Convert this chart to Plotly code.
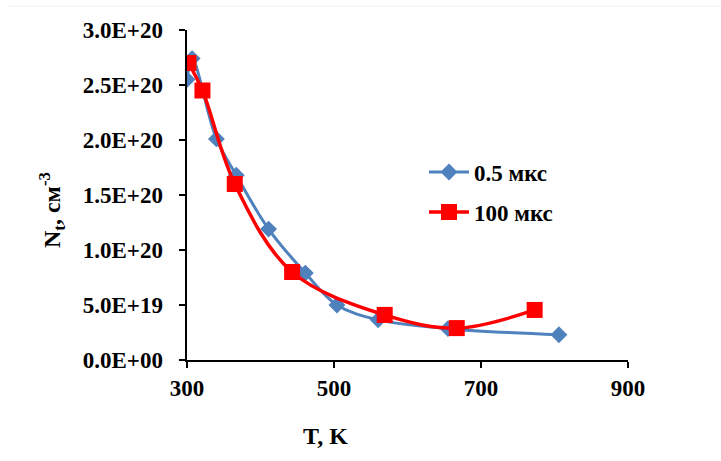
import plotly.graph_objects as go

# Data
t_05 = [300, 307, 340, 367, 411, 461, 504, 560, 655, 806]
n_05 = [2.55e20, 2.74e20, 2.01e20, 1.68e20, 1.19e20, 0.79e20, 0.50e20, 0.365e20, 0.285e20, 0.23e20]
t_100 = [302, 321, 365, 443, 569, 667, 773]
n_100 = [2.70e20, 2.45e20, 1.60e20, 0.80e20, 0.41e20, 0.29e20, 0.455e20]

x_ticks = [300, 500, 700, 900]
y_tickvals = [0, 0.5e20, 1.0e20, 1.5e20, 2.0e20, 2.5e20, 3.0e20]
y_ticktext = ["0.0E+00", "5.0E+19", "1.0E+20", "1.5E+20", "2.0E+20", "2.5E+20", "3.0E+20"]

FONT = "Liberation Serif"
BLUE = "#4F81BD"
RED = "#FF0000"

L, R, T, B = 187, 628, 30, 360
W, H = 721, 461
PW, PH = R - L, B - T

fig = go.Figure()
fig.add_trace(go.Scatter(
    x=t_05, y=n_05, name="<b>0.5 мкс</b>", mode="lines+markers", legend="legend",
    line=dict(color=BLUE, width=3, shape="spline", smoothing=1),
    marker=dict(symbol="diamond", size=13, color=BLUE),
))
fig.add_trace(go.Scatter(
    x=t_100, y=n_100, name="<b>100 мкс</b>", mode="lines+markers", legend="legend2",
    line=dict(color=RED, width=3.5, shape="spline", smoothing=1),
    marker=dict(symbol="square", size=16, color=RED),
))

legend_common = dict(xanchor="left", yanchor="middle", bgcolor="rgba(0,0,0,0)",
                     font=dict(family=FONT, size=23, color="black"), itemwidth=40)

fig.update_layout(
    width=W, height=H,
    margin=dict(l=L, r=W - R, t=T, b=H - B),
    paper_bgcolor="white", plot_bgcolor="white",
    font=dict(family=FONT, color="black", size=23),
    showlegend=True,
    legend=dict(x=(424 - L) / PW, y=(B - 172) / PH, **legend_common),
    legend2=dict(x=(424 - L) / PW, y=(B - 212) / PH, **legend_common),
    xaxis=dict(range=[300, 900], tickvals=x_ticks, ticktext=[f"<b>{v}</b>" for v in x_ticks],
               showline=True, linecolor="black", linewidth=2, ticks="outside",
               ticklen=6, tickwidth=2, tickcolor="black", showgrid=False, zeroline=False,
               tickfont=dict(family=FONT, size=23)),
    yaxis=dict(range=[0, 3.0e20], tickvals=y_tickvals,
               ticktext=[f"<b>{t}</b>\u00a0\u00a0" for t in y_ticktext],
               showline=True, linecolor="black", linewidth=2, ticks="outside",
               ticklen=6, tickwidth=2, tickcolor="black", showgrid=False, zeroline=False,
               tickfont=dict(family=FONT, size=23)),
    annotations=[
        dict(text="<b>T, K</b>", xref="paper", yref="paper", x=(325 - L) / PW, y=-(436 - B) / PH,
             xanchor="center", yanchor="middle", showarrow=False, font=dict(family=FONT, size=24)),
        dict(text="<b>N<sub>t</sub>, см<sup>-3</sup></b>", xref="paper", yref="paper",
             x=-(L - 52) / PW, y=(B - 210) / PH, textangle=-90,
             xanchor="center", yanchor="middle", showarrow=False, font=dict(family=FONT, size=24)),
    ],
    shapes=[dict(type="line", xref="paper", yref="paper", x0=-(L - 9) / PW, x1=(W - L) / PW,
                 y0=(B - 6) / PH, y1=(B - 6) / PH, line=dict(color="#EEEEEE", width=1))],
)

fig.write_html("out.html", config={"displayModeBar": False},
               post_script="document.body.style.margin='0';")
